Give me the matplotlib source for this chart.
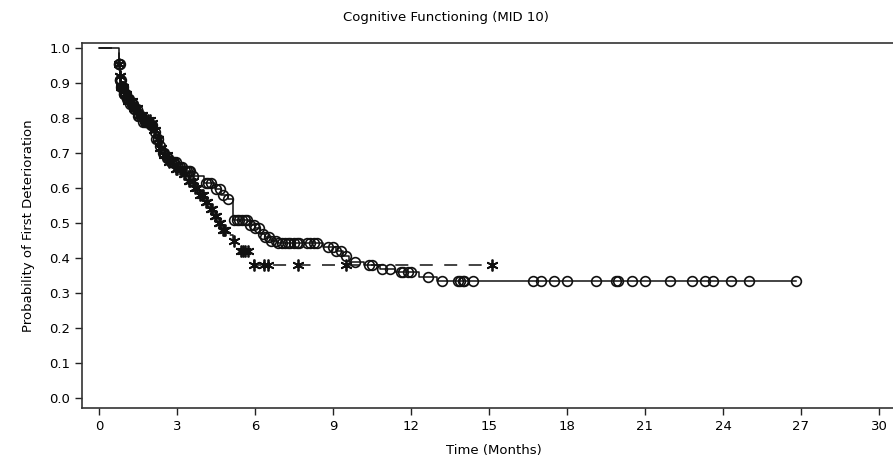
import numpy as np
import matplotlib
matplotlib.use("Agg")
import matplotlib.pyplot as plt

# ---- Data ----
# Group A (solid line, circles)
a_step_times = [0.77, 0.80, 0.85, 0.95, 1.05, 1.20, 1.35, 1.50, 1.65, 2.00, 2.10, 2.20, 2.30, 2.40,
                2.55, 2.70, 3.00, 3.30, 3.60, 4.05, 4.45, 4.70, 4.95, 5.15, 5.80, 6.00, 6.20, 6.40,
                6.60, 6.90, 8.60, 9.10, 9.40, 9.60, 10.2, 10.8, 11.4, 12.3, 13.0]
a_step_surv = [0.955, 0.91, 0.89, 0.87, 0.855, 0.84, 0.825, 0.805, 0.79, 0.78, 0.76, 0.74, 0.72, 0.70,
               0.685, 0.675, 0.66, 0.65, 0.635, 0.615, 0.598, 0.58, 0.568, 0.51, 0.495, 0.485, 0.47, 0.46,
               0.45, 0.443, 0.432, 0.42, 0.405, 0.39, 0.38, 0.37, 0.36, 0.345, 0.333]
a_censor = [0.77, 0.78, 0.79, 0.80, 0.82, 0.83, 0.85, 0.87, 0.90, 0.92, 0.95, 0.97, 1.00, 1.03, 1.07,
            1.10, 1.15, 1.20, 1.25, 1.30, 1.35, 1.40, 1.45, 1.50, 1.55, 1.60, 1.70, 1.75, 1.80, 1.85,
            1.90, 2.00, 2.05, 2.15, 2.20, 2.25, 2.35, 2.45, 2.50, 2.60, 2.65, 2.75, 2.85, 2.90, 2.95,
            3.05, 3.10, 3.20, 3.30, 3.40, 3.45, 3.50, 3.60, 4.10, 4.20,
            4.30, 4.50, 4.65, 4.75, 4.95, 5.20, 5.30, 5.40, 5.50, 5.60, 5.70, 5.80, 5.95, 6.00, 6.15,
            6.30, 6.40, 6.55, 6.60, 6.80, 6.90, 7.05, 7.15, 7.25, 7.35, 7.50, 7.60, 7.70, 8.00, 8.10,
            8.25, 8.40, 8.80, 9.00, 9.10, 9.30, 9.50, 9.85, 10.4, 10.5, 10.9, 11.2, 11.6, 11.7, 11.9,
            12.0, 12.65, 13.2, 13.8, 13.9, 14.0, 14.05, 14.4, 16.7, 17.0, 17.5, 18.0, 19.1, 19.9,
            19.95, 20.5, 21.0, 21.95, 22.8, 23.3, 23.6, 24.3, 25.0, 26.8]

# Group B (dashed line, stars)
b_step_times = [0.77, 0.80, 0.85, 0.95, 1.10, 1.30, 1.50, 1.70, 2.00, 2.10, 2.20, 2.30, 2.45, 2.65,
                2.90, 3.20, 3.40, 3.65, 3.85, 4.05, 4.25, 4.40, 4.55, 4.70, 5.00, 5.15, 5.30, 5.95]
b_step_surv = [0.955, 0.92, 0.89, 0.87, 0.85, 0.83, 0.81, 0.795, 0.785, 0.765, 0.74, 0.715, 0.695, 0.675,
               0.655, 0.64, 0.62, 0.60, 0.58, 0.56, 0.54, 0.52, 0.50, 0.48, 0.465, 0.45, 0.42, 0.38]
b_censor = [0.77, 0.80, 0.82, 0.85, 0.88, 0.90, 0.93, 1.00, 1.05, 1.12, 1.15, 1.20, 1.25, 1.35, 1.40,
            1.45, 1.55, 1.60, 1.65, 1.75, 1.80, 1.90, 1.95, 2.05, 2.12, 2.15, 2.25, 2.28, 2.35, 2.40,
            2.50, 2.55, 2.60, 2.70, 2.80, 2.95, 3.00, 3.10, 3.25, 3.30, 3.45, 3.50, 3.60, 3.70, 3.75,
            3.90, 3.95, 4.00, 4.10, 4.15, 4.30, 4.35, 4.45, 4.50, 4.60, 4.65, 4.75, 4.80, 4.85, 5.20,
            5.45, 5.55, 5.60, 5.75, 5.95, 6.35, 6.50, 7.65, 9.50, 15.1]

x_ticks = [0, 3, 6, 9, 12, 15, 18, 21, 24, 27, 30]
y_ticks = [0.0, 0.1, 0.2, 0.3, 0.4, 0.5, 0.6, 0.7, 0.8, 0.9, 1.0]


def curve(step_times, step_surv, censor):
    t = np.concatenate([[0.0], step_times, [max(censor)]])
    s = np.concatenate([[1.0], step_surv, [step_surv[-1]]])
    idx = np.searchsorted(step_times, censor, side="right") - 1
    cs = np.where(idx >= 0, np.asarray(step_surv)[np.clip(idx, 0, None)], 1.0)
    return t, s, np.asarray(censor), cs


fig = plt.figure(figsize=(8.93, 4.62), dpi=100)
right_px = 905
ax = fig.add_axes([82 / 893, 1 - 408 / 462, (right_px - 82) / 893, (408 - 43) / 462])

col = "#111111"
tb, sb, cbx, cby = curve(b_step_times, b_step_surv, b_censor)
ax.step(tb, sb, where="post", color=col, lw=1.1, dashes=(8.5, 7.5))
ax.plot(cbx, cby, ls="none", marker=(6, 2, 0), ms=8.5, mew=1.3, color=col)

ta, sa, cax_, cay = curve(a_step_times, a_step_surv, a_censor)
ax.step(ta, sa, where="post", color=col, lw=1.1)
ax.plot(cax_, cay, ls="none", marker="o", ms=7, mfc="none", mew=1.2, mec=col)

px_per_month = 26.0
ax.set_xlim(-17 / px_per_month, -17 / px_per_month + (right_px - 82) / px_per_month)
ax.set_ylim(-10 / 350, -10 / 350 + 365 / 350)

ax.set_xticks(x_ticks)
ax.set_xticklabels([str(v) for v in x_ticks], fontsize=9.5)
ax.set_yticks(y_ticks)
ax.set_yticklabels([f"{v:.1f}" for v in y_ticks], fontsize=9.5)
ax.tick_params(direction="out", length=5, width=1, colors="#222222", labelcolor="black")
for sp in ax.spines.values():
    sp.set_linewidth(1.2)
    sp.set_color("#333333")
ax.spines["right"].set_visible(False)

ax.set_xlabel("Time (Months)", fontsize=9.5, labelpad=8)
ax.set_ylabel("Probability of First Deterioration", fontsize=9.5, labelpad=10)
fig.text(446 / 893, 1 - 18 / 462, "Cognitive Functioning (MID 10)", ha="center", va="center", fontsize=9.5)

fig.savefig("out.png", dpi=100)
